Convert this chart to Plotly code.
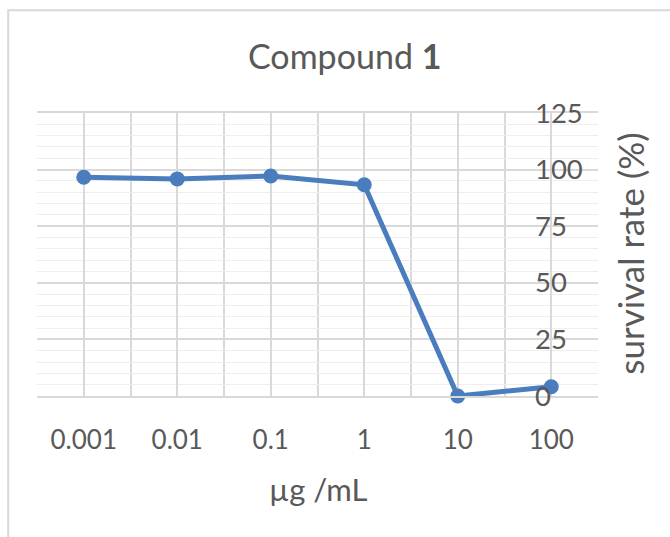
import numpy as np
import plotly.graph_objects as go

# Concentration series (µg/mL) and measured survival rate (%)
concentrations = [0.001, 0.01, 0.1, 1, 10, 100]
conc_labels = ["0.001", "0.01", "0.1", "1", "10", "100"]
survival = [96.6, 95.9, 97.2, 93.3, 0.0, 4.1]
y_ticks = [0, 25, 50, 75, 100, 125]

W, H = 670, 537
L, R, T, B = 37.3, 598.0, 113.0, 396.5   # plot-area edges in pixels
FONT = "Lato, 'Open Sans', sans-serif"
TXT = "#595959"
BLUE = "#4a7dbd"
GRID = "#d9d9d9"


def px_x(p):
    return (p - L) / (R - L)


def px_y(p):
    return 1 - (p - T) / (B - T)


log_x = np.log10(concentrations)

fig = go.Figure()

# survival curve on the log-concentration axis
fig.add_trace(go.Scatter(
    x=log_x, y=survival, mode="lines+markers",
    line=dict(color=BLUE, width=5),
    marker=dict(color=BLUE, size=15),
    cliponaxis=False, showlegend=False, hoverinfo="x+y",
))

# helper trace carrying the right-hand value axis labels
fig.add_trace(go.Scatter(
    x=log_x, y=survival, mode="markers",
    marker=dict(opacity=0), xaxis="x", yaxis="y2",
    showlegend=False, hoverinfo="skip",
))

fig.update_layout(
    width=W, height=H,
    margin=dict(l=L, r=W - R, t=T, b=H - B),
    paper_bgcolor="white", plot_bgcolor="white",
    font=dict(family=FONT, color=TXT),
    showlegend=False,
    xaxis=dict(
        range=[-3.5, 2.5],
        tickmode="array", tickvals=log_x, ticktext=conc_labels,
        ticks="outside", ticklen=20, tickcolor="rgba(0,0,0,0)",
        tickfont=dict(size=26, color=TXT, family=FONT),
        showgrid=True, gridcolor=GRID, gridwidth=1.5,
        minor=dict(tick0=-3.5, dtick=0.5, showgrid=True, gridcolor=GRID,
                   gridwidth=1.5, ticks=""),
        zeroline=False,
        showline=True, mirror=True, linecolor=GRID, linewidth=1.5,
    ),
    yaxis=dict(
        range=[0, 125], dtick=25, side="right",
        showgrid=True, gridcolor=GRID, gridwidth=1.5,
        minor=dict(dtick=5, showgrid=True, gridcolor="#eeeeee", gridwidth=1),
        showticklabels=False, ticks="", zeroline=False,
    ),
    yaxis2=dict(
        overlaying="y", anchor="free", position=px_x(534), side="right",
        range=[0, 125], tickmode="array", tickvals=y_ticks,
        ticks="", tickfont=dict(size=27.5, color=TXT, family=FONT),
        showgrid=False, zeroline=False, showline=False,
    ),
    annotations=[
        dict(text="Compound <b>1</b>", xref="paper", yref="paper",
             x=px_x(345), y=px_y(55), showarrow=False,
             xanchor="center", yanchor="middle",
             font=dict(size=34, color=TXT, family=FONT)),
        dict(text="µg /mL", xref="paper", yref="paper",
             x=px_x(319), y=px_y(490), showarrow=False,
             xanchor="center", yanchor="middle",
             font=dict(size=31, color=TXT, family=FONT)),
        dict(text="survival rate (%)", xref="paper", yref="paper",
             x=px_x(630), y=px_y(254), showarrow=False, textangle=-90,
             xanchor="center", yanchor="middle",
             font=dict(size=35, color=TXT, family=FONT)),
    ],
    shapes=[
        # outer chart frame
        dict(type="rect", xref="paper", yref="paper",
             x0=px_x(8.5), x1=px_x(690), y0=px_y(560), y1=px_y(10),
             line=dict(color=GRID, width=2), layer="below"),
    ],
)

fig.write_html("out.html")
